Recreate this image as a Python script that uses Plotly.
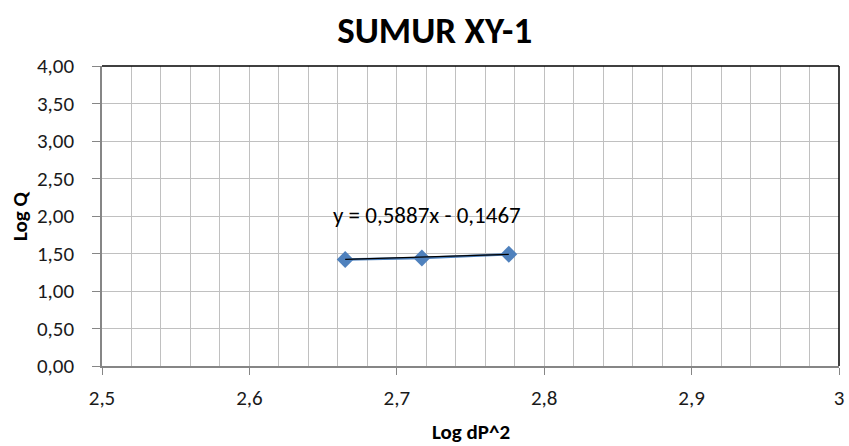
import plotly.graph_objects as go

# Data
log_dp2 = [2.665, 2.717, 2.776]
log_q = [1.42, 1.44, 1.49]
trend_slope = 0.5887
trend_intercept = -0.1467
trend_label = "y = 0,5887x - 0,1467"
title_text = "SUMUR XY-1"
x_title = "Log dP^2"
y_title = "Log Q"

FONT = "Carlito, Calibri, Lato, sans-serif"

trend_x = [min(log_dp2), max(log_dp2)]
trend_y = [trend_slope * v + trend_intercept for v in trend_x]

fig = go.Figure()
fig.add_trace(go.Scatter(
    x=log_dp2, y=log_q, mode="lines+markers",
    line=dict(color="#4A7EBB", width=2.5),
    marker=dict(symbol="diamond", size=13, color="#4F81BD"),
    showlegend=False,
))
fig.add_trace(go.Scatter(
    x=trend_x, y=trend_y, mode="lines",
    line=dict(color="#000000", width=1.3),
    showlegend=False,
))

fig.add_annotation(
    x=sum(trend_x) / 2, y=2.01, xref="x", yref="y",
    text=trend_label, showarrow=False,
    font=dict(family=FONT, size=23, color="#000000"),
)

# Axis titles as paper annotations
fig.add_annotation(
    x=0.5, y=0.0, xref="paper", yref="paper", yshift=-66,
    text="<b>" + x_title + "</b>", showarrow=False,
    font=dict(family=FONT, size=21, color="#000000"),
    xanchor="center", yanchor="middle",
)
fig.add_annotation(
    x=0, y=0.5, xref="paper", yref="paper", xshift=-82,
    text="<b>" + y_title + "</b>", showarrow=False, textangle=-90,
    font=dict(family=FONT, size=21, color="#000000"),
    xanchor="center", yanchor="middle",
)

# Top and right plot-area borders (black)
fig.add_shape(type="line", xref="paper", yref="paper", x0=0, x1=1, y0=1, y1=1,
              line=dict(color="#000000", width=1.5))
fig.add_shape(type="line", xref="paper", yref="paper", x0=1, x1=1, y0=0, y1=1,
              line=dict(color="#000000", width=1.5))

fig.update_layout(
    width=849, height=446,
    margin=dict(l=102, r=10, t=66, b=80, autoexpand=False),
    paper_bgcolor="white", plot_bgcolor="white",
    separators=",.",
    title=dict(text="<b>" + title_text + "</b>", x=0.512, xanchor="center",
               xref="container",
               y=0.933, yanchor="middle",
               font=dict(family=FONT, size=37, color="#000000")),
    font=dict(family=FONT, size=21, color="#000000"),
)
fig.update_xaxes(
    range=[2.5, 3.0], dtick=0.1, tick0=2.5,
    showgrid=True, gridcolor="#C0C0C0", gridwidth=1.2,
    minor=dict(dtick=0.02, showgrid=True, gridcolor="#C0C0C0", gridwidth=1.2),
    showline=True, linecolor="#868686", linewidth=1.5,
    ticks="outside", ticklen=7, tickcolor="#868686",
    ticklabelstandoff=5, ticklabeloverflow="allow",
    tickfont=dict(family=FONT, size=21, color="#1a1a1a"),
    automargin=False,
    zeroline=False,
)
fig.update_yaxes(
    range=[0, 4.0], dtick=0.5, tickformat=".2f",
    showgrid=True, gridcolor="#C0C0C0", gridwidth=1.2,
    showline=True, linecolor="#868686", linewidth=1.5,
    ticks="outside", ticklen=8, tickcolor="#868686",
    ticklabelstandoff=14,
    tickfont=dict(family=FONT, size=21, color="#1a1a1a"),
    automargin=False,
    zeroline=False,
)

fig.write_html(
    "out.html",
    config={"displayModeBar": False},
    post_script="document.body.style.margin='0';document.body.style.overflow='hidden';",
)
